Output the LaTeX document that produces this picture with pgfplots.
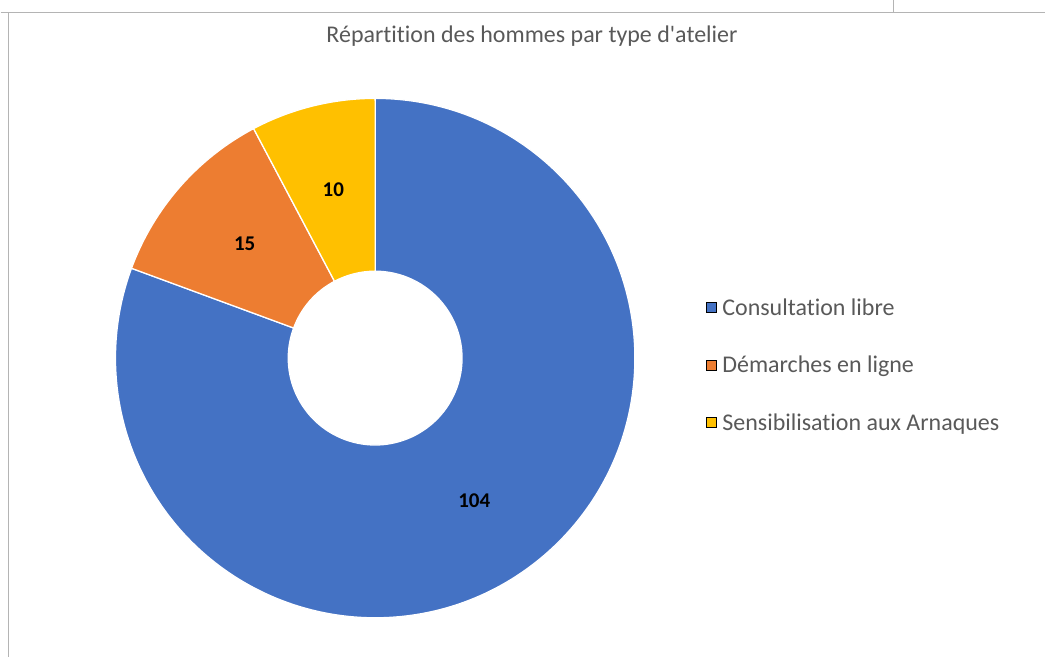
\documentclass[border=0pt]{standalone}
\usepackage{fontspec}
\setmainfont{Carlito}[Ligatures={NoCommon}]
\usepackage{pgfplots}
\usepackage{pgfplotstable}
\pgfplotsset{compat=1.18}
\definecolor{cblue}{HTML}{4472C4}
\definecolor{corange}{HTML}{ED7D31}
\definecolor{cyellow}{HTML}{FFC000}
\definecolor{ctext}{HTML}{595959}
\definecolor{cframe}{HTML}{B4B4B4}
\pgfplotstableread{
label value
Consultation 104
Demarches 15
Sensibilisation 10
}\datatable
\begin{document}
\begin{tikzpicture}
\pgfplotstablegetelem{0}{value}\of\datatable \let\vA\pgfplotsretval
\pgfplotstablegetelem{1}{value}\of\datatable \let\vB\pgfplotsretval
\pgfplotstablegetelem{2}{value}\of\datatable \let\vC\pgfplotsretval
\pgfmathsetmacro\tot{\vA+\vB+\vC}
\pgfmathsetmacro\aS{90}
\pgfmathsetmacro\aA{\aS-360*(\vA/\tot)}
\pgfmathsetmacro\aB{\aA-360*(\vB/\tot)}
\pgfmathsetmacro\aC{\aB-360*(\vC/\tot)}
\pgfmathsetmacro\mA{(\aS+\aA)/2}
\pgfmathsetmacro\mB{(\aA+\aB)/2}
\pgfmathsetmacro\mC{(\aB+\aC)/2}
\def\Rout{260pt}
\def\Rin{87pt}
\def\Rmid{173.5pt}
\begin{axis}[x=1pt, y=1pt, xmin=0, xmax=1046, ymin=0, ymax=657,
  hide axis, clip=false,
  legend cell align=left,
  legend image code/.code={\fill[#1] (0pt,-5pt) rectangle (10pt,5pt); \path (14pt,0pt);},
  legend style={draw=none, fill=none, at={(axis cs:703,292)}, anchor=west,
    font=\fontsize{24}{28}\selectfont, text=ctext, row sep=35.5pt,
    nodes={inner sep=2pt}},
]
\addlegendimage{fill=cblue}
\addlegendentry{Consultation libre}
\addlegendimage{fill=corange}
\addlegendentry{Démarches en ligne}
\addlegendimage{fill=cyellow}
\addlegendentry{Sensibilisation aux Arnaques}
% frame
\draw[cframe, line width=1.2pt] (axis cs:0,645) -- (axis cs:1046,645);
\draw[cframe, line width=1.5pt] (axis cs:8,645) -- (axis cs:8,0);
\draw[cframe, line width=1pt] (axis cs:894,657) -- (axis cs:894,645);
% sectors
\foreach \sa/\ea/\col in {\aS/\aA/cblue, \aA/\aB/corange, \aB/\aC/cyellow}{
  \edef\tmp{\noexpand\filldraw[fill=\col, draw=white, line width=1.3pt, line join=round]
    ([shift={(\sa:\Rout)}]axis cs:375,299) arc[start angle=\sa, end angle=\ea, radius=\Rout]
    -- ([shift={(\ea:\Rin)}]axis cs:375,299) arc[start angle=\ea, end angle=\sa, radius=\Rin] -- cycle;}
  \tmp
}
\node[font=\bfseries\fontsize{21}{22}\selectfont] at ([shift={(\mA:\Rmid)}]axis cs:375,299) {\vA};
\node[font=\bfseries\fontsize{21}{22}\selectfont] at ([shift={(\mB:\Rmid)}]axis cs:375,299) {\vB};
\node[font=\bfseries\fontsize{21}{22}\selectfont] at ([shift={(\mC:\Rmid)}]axis cs:375,299) {\vC};
\node[text=ctext, font=\fontsize{24}{28}\selectfont] at (axis cs:532,621) {Répartition des hommes par type d\textquotesingle atelier};
\end{axis}
\end{tikzpicture}
\end{document}
